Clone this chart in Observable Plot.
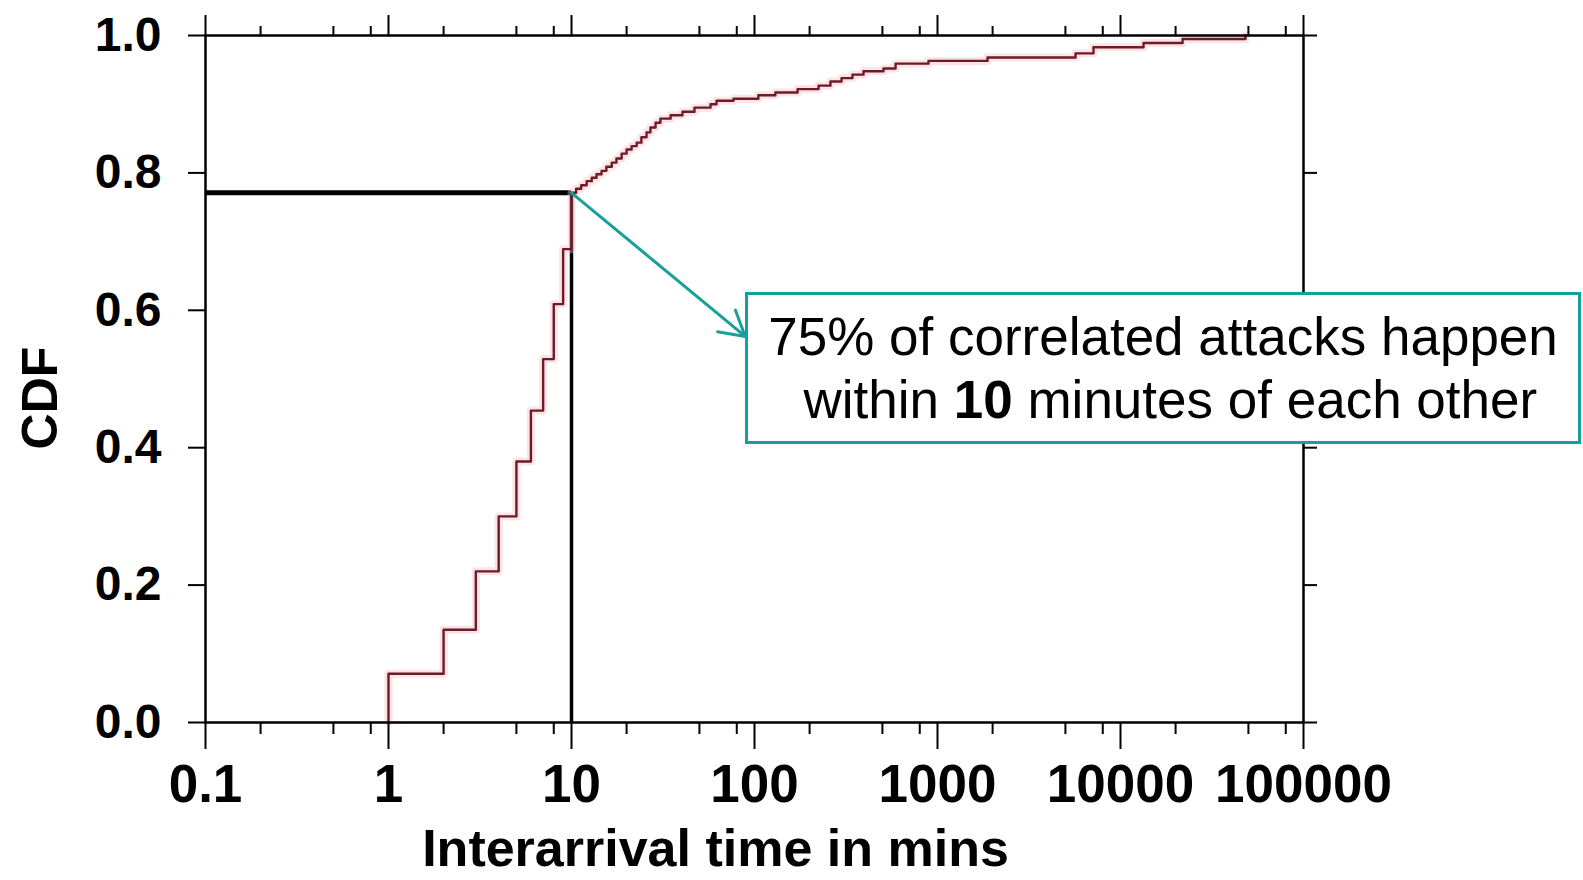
<!DOCTYPE html>
<html>
<head>
<meta charset="utf-8">
<script src="https://cdn.jsdelivr.net/npm/d3@7"></script>
<script src="https://cdn.jsdelivr.net/npm/@observablehq/plot@0.6"></script>
<style>
  html, body { margin: 0; padding: 0; background: #fff; }
  #wrap { position: relative; width: 1583px; height: 880px; }
  #note {
    position: absolute; left: 745px; top: 292px; width: 836px; height: 152px;
    box-sizing: border-box; border: 3px solid #17a09b; background: #fff;
    font-family: "Liberation Sans", Arial, sans-serif; font-size: 53px; line-height: 63px;
    color: #000; text-align: center; display: flex; flex-direction: column; justify-content: center;
  }
</style>
</head>
<body>
<div id="wrap">
  <div id="chart"></div>
  <div id="note"><div>75% of correlated attacks happen</div><div>&nbsp;within <b>10</b> minutes of each other</div></div>
</div>
<script>
// Interarrival time (minutes) at each step of the CDF, and the CDF level reached there
const minutes = [1, 1, 2, 3, 4, 5, 6, 7, 8, 9, 10,
  10.6, 11.3, 12.1, 12.9, 13.7, 14.6, 15.5, 16.6, 17.6, 18.8, 20, 21.3, 22.7, 24.1, 25.7, 27, 28.8, 30.6,
  34.8, 40.4, 47, 57.5, 62, 76.8, 105, 130, 172, 224, 260, 299, 343, 394, 507, 590, 893, 1876,
  5680, 7120, 13360, 21830, 48200];
const cdf = [0, 0.071, 0.135, 0.220, 0.300, 0.380, 0.454, 0.529, 0.609, 0.689, 0.771,
  0.777, 0.782, 0.788, 0.793, 0.798, 0.803, 0.809, 0.815, 0.821, 0.828, 0.834, 0.839, 0.844, 0.852, 0.859, 0.866, 0.873, 0.879,
  0.884, 0.889, 0.895, 0.900, 0.905, 0.908, 0.913, 0.917, 0.922, 0.927, 0.933, 0.938, 0.943, 0.948, 0.952, 0.959, 0.963, 0.968,
  0.974, 0.983, 0.989, 0.995, 1.0];

// Axes
const xDomain = [0.1, 100000];
const xMajorTicks = [0.1, 1, 10, 100, 1000, 10000, 100000];
const xMajorLabels = ["0.1", "1", "10", "100", "1000", "10000", "100000"];
const xMinorTicks = [0.2, 0.5, 0.8, 2, 5, 8, 20, 50, 80, 200, 500, 800, 2000, 5000, 8000, 20000, 50000, 80000];
const yTicks = [0, 0.2, 0.4, 0.6, 0.8, 1.0];
const yLabels = ["0.0", "0.2", "0.4", "0.6", "0.8", "1.0"];
const xTitle = "Interarrival time in mins";
const yTitle = "CDF";

// Highlight: the point at 10 minutes, and where the annotation arrow ends
const highlightMinutes = [10];
const arrowEnd = [{t: 89, p: 0.562}];

const points = minutes.map((t, i) => ({t, p: cdf[i]}));
const hi = points.filter(d => highlightMinutes.includes(d.t)).slice(-1);
const arrows = hi.map((d, i) => ({t1: d.t, p1: d.p, t2: arrowEnd[i].t, p2: arrowEnd[i].p}));
const xLab = new Map(xMajorTicks.map((v, i) => [v, xMajorLabels[i]]));
const yLab = new Map(yTicks.map((v, i) => [v, yLabels[i]]));

const teal = "#17a09b";
const font = "'Liberation Sans', Arial, sans-serif";

const chart = Plot.plot({
  width: 1583,
  height: 880,
  marginLeft: 205,
  marginRight: 280,
  marginTop: 35,
  marginBottom: 158,
  style: {fontFamily: font, color: "#000", background: "#fff"},
  x: {type: "log", domain: xDomain},
  y: {domain: [0, 1]},
  marks: [
    // reference lines at 10 minutes
    Plot.ruleY(hi, {y: "p", x1: xDomain[0], x2: "t", stroke: "#000", strokeWidth: 5}),
    Plot.ruleX(hi, {x: "t", y1: 0, y2: "p", stroke: "#000", strokeWidth: 3.5}),
    // CDF curve (soft halo + line)
    Plot.line(points, {x: "t", y: "p", curve: "step-after", stroke: "#f4b8c0", strokeWidth: 8, strokeOpacity: 0.4}),
    Plot.line(points, {x: "t", y: "p", curve: "step-after", stroke: "#6e1b28", strokeWidth: 2.4}),
    // annotation arrow
    Plot.arrow(arrows, {x1: "t1", y1: "p1", x2: "t2", y2: "p2", stroke: teal, strokeWidth: 3, headLength: 14}),
    // frame and ticks on all four sides
    Plot.frame({stroke: "#000", strokeWidth: 2.5}),
    Plot.axisX({anchor: "bottom", ticks: xMajorTicks, tickSize: 27, tickPadding: 15, strokeWidth: 2,
      tickFormat: d => xLab.get(d), fontSize: 53, fontWeight: "bold", label: null}),
    Plot.axisX({anchor: "bottom", ticks: xMinorTicks, tickSize: 12, strokeWidth: 2, text: null, label: null}),
    Plot.axisX({anchor: "top", ticks: xMajorTicks, tickSize: 21, strokeWidth: 2, text: null, label: null}),
    Plot.axisX({anchor: "top", ticks: xMinorTicks, tickSize: 10, strokeWidth: 2, text: null, label: null}),
    Plot.axisY({anchor: "left", ticks: yTicks, tickSize: 17, tickPadding: 27, strokeWidth: 2,
      tickFormat: d => yLab.get(d), fontSize: 48, fontWeight: "bold", label: null}),
    Plot.axisY({anchor: "right", ticks: yTicks, tickSize: 13, strokeWidth: 2, text: null, label: null}),
    // axis titles
    Plot.text([yTitle], {text: d => d, frameAnchor: "left", textAnchor: "middle", lineAnchor: "middle",
      rotate: -90, dx: -165, dy: 19, fontSize: 50, fontWeight: "bold", fill: "#000"}),
    Plot.text([xTitle], {text: d => d, frameAnchor: "bottom", textAnchor: "middle", lineAnchor: "middle",
      dx: -39, dy: 127, fontSize: 52, fontWeight: "bold", fill: "#000"})
  ]
});
document.getElementById("chart").appendChild(chart);
</script>
</body>
</html>
